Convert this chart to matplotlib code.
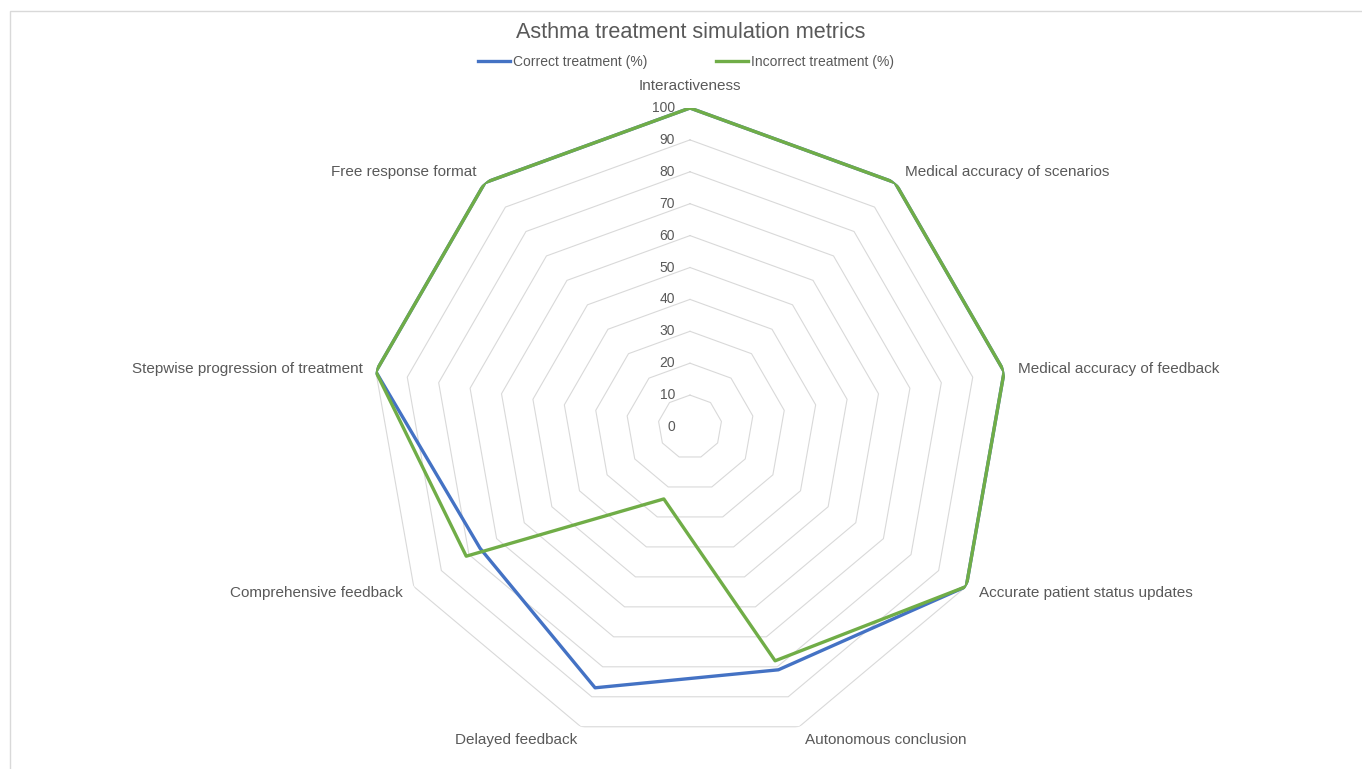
import numpy as np
import matplotlib.pyplot as plt
from matplotlib.patches import Rectangle

plt.rcParams['font.family'] = ['Liberation Sans', 'DejaVu Sans']

categories = ["Interactiveness", "Medical accuracy of scenarios", "Medical accuracy of feedback",
              "Accurate patient status updates", "Autonomous conclusion", "Delayed feedback",
              "Comprehensive feedback", "Stepwise progression of treatment", "Free response format"]
correct = [100, 100, 100, 100, 81, 87, 76, 100, 100]
incorrect = [100, 100, 100, 100, 78, 24, 81, 100, 100]
ticks = [0, 10, 20, 30, 40, 50, 60, 70, 80, 90, 100]

# label offsets in pixels (x, y) and horizontal alignment
label_pos = [(0, 22, 'center'), (10, 11, 'left'), (14, 3, 'left'), (13, -6, 'left'),
             (6, -13, 'left'), (-4, -13, 'right'), (-11, -6, 'right'), (-13, 3, 'right'),
             (-8, 11, 'right')]

txt = '#595959'
grid_c = '#D9D9D9'

fig = plt.figure(figsize=(13.62, 7.69), dpi=100)
ax = fig.add_axes([371/1362, 23/769, 638/1362, 638/769], projection='polar')
ax.set_theta_offset(np.pi/2)
ax.set_theta_direction(-1)
ax.set_ylim(0, 100)
ax.grid(False)
ax.spines['polar'].set_visible(False)
ax.set_xticks([])
ax.set_yticks([])
ax.patch.set_visible(False)

n = len(categories)
ang = np.linspace(0, 2*np.pi, n, endpoint=False)
ang_c = np.append(ang, ang[0])

for v in ticks[1:]:
    ax.plot(ang_c, [v]*(n+1), color=grid_c, lw=0.8, zorder=1)

for v in ticks:
    ax.annotate(str(v), (0, v), xytext=(-15, 0), textcoords='offset pixels',
                ha='right', va='center', fontsize=10, color=txt)

ax.plot(ang_c, correct + correct[:1], color='#4472C4', lw=2.4, label='Correct treatment (%)', zorder=3)
ax.plot(ang_c, incorrect + incorrect[:1], color='#70AD47', lw=2.4, label='Incorrect treatment (%)', zorder=4)

for a, lab, (dx, dy, ha) in zip(ang, categories, label_pos):
    ax.annotate(lab, (a, 100), xytext=(dx, dy), textcoords='offset pixels',
                ha=ha, va='center', fontsize=11, color=txt, annotation_clip=False)

fig.text(691/1362, 1 - 33/769, "Asthma treatment simulation metrics", ha='center', va='center',
         fontsize=15.6, color=txt)
fig.legend(loc='center', bbox_to_anchor=(686/1362, 1 - 62/769), ncol=2, frameon=False,
           fontsize=10, handlelength=2.3, handletextpad=0.2, columnspacing=5.0,
           labelcolor=txt)

fig.patches.append(Rectangle((10/1362, -0.05), 1.1, 1.05 - 11/769, transform=fig.transFigure,
                             fill=False, edgecolor='#D9D9D9', lw=1))

fig.savefig('out.png', dpi=100)
